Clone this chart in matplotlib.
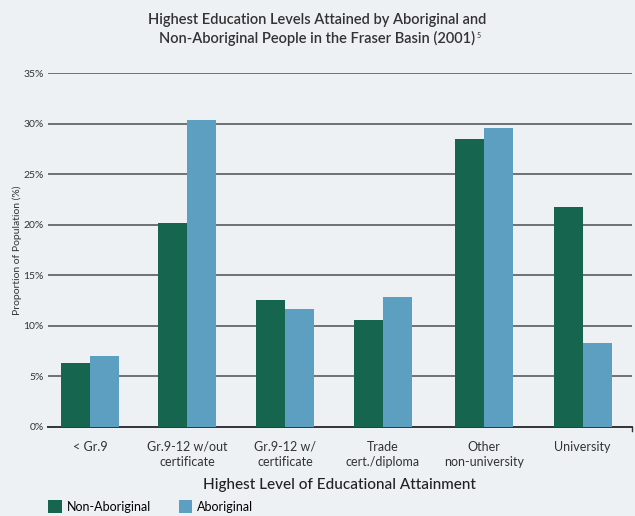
import matplotlib.pyplot as plt
import numpy as np

categories = ['< Gr.9', 'Gr.9-12 w/out\ncertificate', 'Gr.9-12 w/\ncertificate',
              'Trade\ncert./diploma', 'Other\nnon-university', 'University']
non_aboriginal = [6.3, 20.2, 12.6, 10.6, 28.5, 21.8]
aboriginal = [7.0, 30.4, 11.7, 12.9, 29.6, 8.3]
yticks = [0, 5, 10, 15, 20, 25, 30, 35]

green = '#16664f'
blue = '#5d9fc0'
bg = '#edf1f4'

plt.rcParams['font.family'] = ['Lato', 'DejaVu Sans']

fig = plt.figure(figsize=(6.35, 5.16), dpi=100, facecolor=bg)
ax = fig.add_axes([0.0756, 0.1725, 0.9194, 0.686], facecolor=bg)

x = np.array([0, 0.985, 1.98, 2.97, 4.0, 5.0])
w = 0.295
ax.bar(x - w / 2, non_aboriginal, w, color=green, label='Non-Aboriginal', zorder=3)
ax.bar(x + w / 2, aboriginal, w, color=blue, label='Aboriginal', zorder=3)

ax.set_xlim(-0.43, 5.5)
ax.set_ylim(0, 35)
ax.set_yticks(yticks)
ax.set_yticklabels([f'{v}%' for v in yticks], fontsize=7.5, color='#333333')
for v in yticks[1:]:
    ax.axhline(v, color='#5a5a5a', lw=1.2, zorder=1)

ax.set_xticks(x)
ax.set_xticklabels(categories, fontsize=9, color='#333333', linespacing=1.3)
ax.tick_params(axis='x', length=0, pad=10)
ax.tick_params(axis='y', length=0, pad=3)

for s in ['top', 'right', 'left']:
    ax.spines[s].set_visible(False)
ax.spines['bottom'].set_color('#333333')
ax.spines['bottom'].set_linewidth(1.4)
# small end tick at the right of the baseline
ax.plot([1, 1], [0, -0.012], transform=ax.transAxes, color='#333333', lw=1,
        clip_on=False)

ax.set_ylabel('Proportion of Population (%)', fontsize=7.5, color='#333333', labelpad=1)
ax.set_xlabel('Highest Level of Educational Attainment', fontsize=11, color='#222222',
              fontweight='medium', labelpad=7)

fig.text(0.5, 0.962, 'Highest Education Levels Attained by Aboriginal and',
         ha='center', va='center', fontsize=10.5, fontweight='semibold', color='#333333')
line2 = fig.text(0.5, 0.926, 'Non-Aboriginal People in the Fraser Basin (2001)',
                 ha='center', va='center', fontsize=10.5, fontweight='semibold',
                 color='#333333')
fig.canvas.draw()
bb = line2.get_window_extent().transformed(fig.transFigure.inverted())
fig.text(bb.x1 + 0.001, bb.y1 - 0.01, '5', ha='left', va='center', fontsize=5,
         color='#333333')

fig.legend(loc='lower left', bbox_to_anchor=(0.058, -0.016), ncol=2, frameon=False,
           fontsize=9, handlelength=1.1, handleheight=1.2, handletextpad=0.4,
           columnspacing=2.2)

fig.savefig('out.png', dpi=100, facecolor=bg)
